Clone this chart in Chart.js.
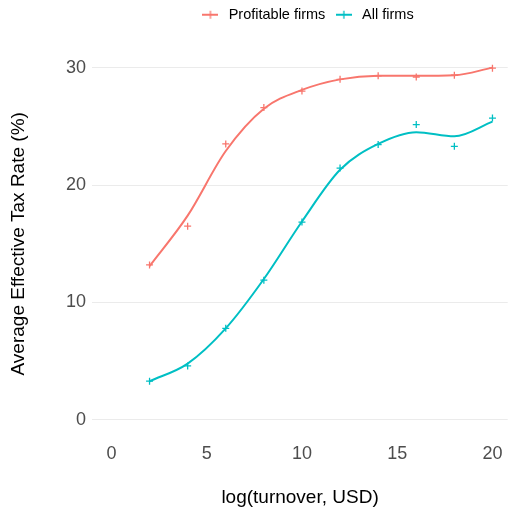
<!DOCTYPE html>
<html>
<head>
<meta charset="utf-8">
<script src="https://cdn.jsdelivr.net/npm/chart.js@4/dist/chart.umd.min.js"></script>
<style>
  html, body { margin: 0; padding: 0; background: #fff; }
</style>
</head>
<body>
<canvas id="taxChart" width="513" height="513"></canvas>
<script>
// log(turnover) buckets
const turnover = [2, 4, 6, 8, 10, 12, 14, 16, 18, 20];

// observed averages (the + marks)
const profitableObs = [13.2, 16.5, 23.5, 26.6, 28.0, 29.0, 29.3, 29.2, 29.35, 29.95];
const allObs = [3.3, 4.6, 7.8, 11.9, 16.85, 21.45, 23.45, 25.15, 23.3, 25.7];

// smoothed curves
const profitableFit = [13.1, 17.4, 22.9, 26.5, 28.1, 29.0, 29.3, 29.3, 29.35, 30.0];
const allFit = [3.3, 4.8, 7.8, 12.0, 16.9, 21.3, 23.5, 24.5, 24.15, 25.4];

const seriesNames = ['Profitable firms', 'All firms'];
const xTicks = [0, 5, 10, 15, 20];
const yTicks = [0, 10, 20, 30];

const red = '#F8766D';
const teal = '#00BFC4';
const baseFont = '"Liberation Sans", Arial, sans-serif';

const toPoints = (xs, ys) => xs.map((x, i) => ({ x: x, y: ys[i] }));

// little "line with a plus" glyph for the legend
function legendGlyph(color) {
    const c = document.createElement('canvas');
    c.width = 16;
    c.height = 10;
    const g = c.getContext('2d');
    g.strokeStyle = color;
    g.lineWidth = 2;
    g.beginPath();
    g.moveTo(0, 5);
    g.lineTo(16, 5);
    g.stroke();
    g.lineWidth = 1.3;
    g.beginPath();
    g.moveTo(8, 1);
    g.lineTo(8, 9);
    g.stroke();
    return c;
}

const fitLine = (label, ys, color) => ({
    label: label,
    data: toPoints(turnover, ys),
    borderColor: color,
    backgroundColor: color,
    borderWidth: 2,
    pointRadius: 0,
    fill: false,
    cubicInterpolationMode: 'monotone'
});

const obsPoints = (label, ys, color) => ({
    label: label,
    data: toPoints(turnover, ys),
    showLine: false,
    pointStyle: 'cross',
    pointRadius: 3.5,
    borderWidth: 1.3,
    borderColor: color,
    backgroundColor: color
});

// legend sits in a fixed 50px strip above the panel, nudged a bit right
const legendStrip = {
    id: 'legendStrip',
    beforeLayout(chart) {
        const lg = chart.legend;
        if (lg && !lg._stripped) {
            const fit = lg.fit;
            lg.fit = function () {
                fit.call(this);
                this.height = 50;
            };
            lg._stripped = true;
        }
    },
    afterLayout(chart) {
        const lg = chart.legend;
        if (lg) {
            lg.left += 6.5;
            lg.right += 6.5;
        }
    }
};

const ctx = document.getElementById('taxChart').getContext('2d');
new Chart(ctx, {
    type: 'line',
    data: {
        datasets: [
            fitLine(seriesNames[0], profitableFit, red),
            obsPoints(seriesNames[0], profitableObs, red),
            fitLine(seriesNames[1], allFit, teal),
            obsPoints(seriesNames[1], allObs, teal)
        ]
    },
    options: {
        responsive: false,
        animation: false,
        layout: { padding: 0 },
        plugins: {
            tooltip: { enabled: false },
            legend: {
                position: 'top',
                fullSize: false,
                labels: {
                    usePointStyle: true,
                    pointStyleWidth: 22,
                    padding: 7.5,
                    color: '#000',
                    font: { family: baseFont, size: 14.5 },
                    generateLabels: () => [
                        { text: seriesNames[0], pointStyle: legendGlyph(red), fillStyle: red, strokeStyle: red, lineWidth: 0, hidden: false, datasetIndex: 0 },
                        { text: seriesNames[1], pointStyle: legendGlyph(teal), fillStyle: teal, strokeStyle: teal, lineWidth: 0, hidden: false, datasetIndex: 2 }
                    ]
                }
            }
        },
        scales: {
            x: {
                type: 'linear',
                min: -1,
                max: 20.8,
                afterBuildTicks: s => { s.ticks = xTicks.map(v => ({ value: v })); },
                afterFit: s => { s.height = 75.4; },
                grid: { display: false, drawTicks: false },
                border: { display: false },
                ticks: {
                    padding: 6,
                    color: '#4D4D4D',
                    font: { family: baseFont, size: 18 }
                },
                title: {
                    display: true,
                    text: 'log(turnover, USD)',
                    color: '#000',
                    padding: { top: 4, bottom: 4 },
                    font: { family: baseFont, size: 19 }
                }
            },
            y: {
                min: -1.5,
                max: 31.5,
                afterBuildTicks: s => { s.ticks = yTicks.map(v => ({ value: v })); },
                afterFit: s => { s.width = 92.4; },
                grid: { color: '#EBEBEB', lineWidth: 1, drawTicks: false },
                border: { display: false },
                ticks: {
                    padding: 6.4,
                    color: '#4D4D4D',
                    font: { family: baseFont, size: 18 }
                },
                title: {
                    display: true,
                    text: 'Average Effective Tax Rate (%)',
                    color: '#000',
                    padding: { top: 7, bottom: 4 },
                    font: { family: baseFont, size: 19 }
                }
            }
        }
    },
    plugins: [legendStrip]
});
</script>
</body>
</html>
